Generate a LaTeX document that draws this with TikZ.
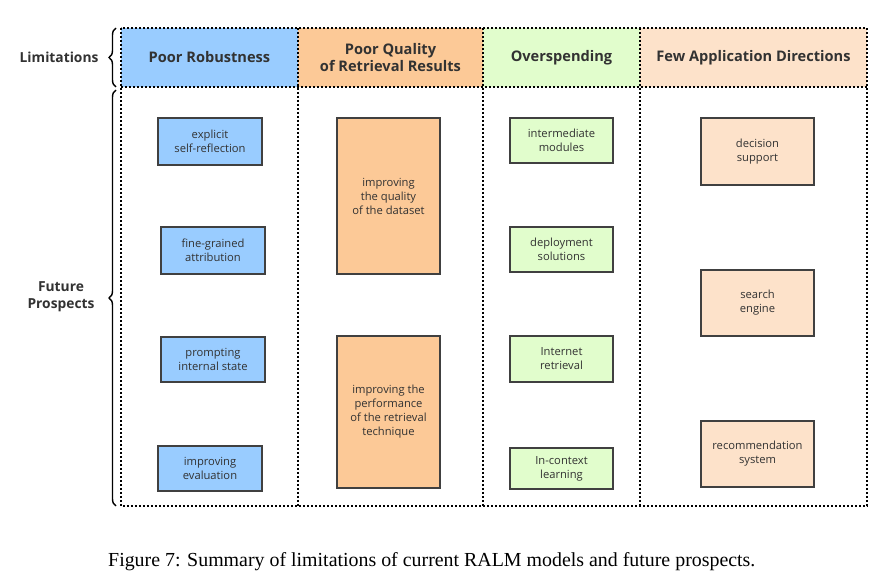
\documentclass[tikz,border=0pt]{standalone}
\usepackage{fontspec}
\setmainfont{Liberation Serif}
\newfontfamily\diagfont{Open Sans}
\usetikzlibrary{positioning,calc,decorations.pathreplacing}
\definecolor{textgrey}{RGB}{50,50,50}
\definecolor{boxgrey}{RGB}{64,64,64}
\definecolor{robustblue}{RGB}{153,204,255}
\definecolor{qualityorange}{RGB}{252,201,151}
\definecolor{spendgreen}{RGB}{225,253,204}
\definecolor{fewpeach}{RGB}{253,226,202}
\tikzset{
  headcell/.style={inner sep=0pt,outer sep=0pt,minimum height=59pt,text=textgrey,font=\diagfont\bfseries\fontsize{14.6}{17}\selectfont,align=center},
  bodycell/.style={inner sep=0pt,outer sep=0pt,minimum height=419pt},
  gridline/.style={draw=black,line width=1.3pt,dash pattern=on 1.7pt off 2.3pt},
  prospect/.style={draw=boxgrey,line width=1.2pt,inner sep=2pt,text=textgrey,font=\diagfont\fontsize{11.2}{14}\selectfont,align=center},
  sidelabel/.style={text=textgrey,font=\diagfont\bfseries\fontsize{13.8}{17}\selectfont,align=center},
  sidebrace/.style={draw=black,line width=1.4pt,decorate,decoration={brace,amplitude=7pt}}
}
\begin{document}
\begin{tikzpicture}[x=1pt,y=-1pt]
\useasboundingbox (0,0) rectangle (892,580);

% limitations row
\node [headcell,fill=robustblue,minimum width=177pt] (robust) at (209.5,57.5) {Poor Robustness};
\node [headcell,fill=qualityorange,minimum width=185pt] (quality) at (390.5,57.5) {Poor Quality\\of Retrieval Results};
\node [headcell,fill=spendgreen,minimum width=157pt] (spend) at (561.5,57.5) {Overspending};
\node [headcell,fill=fewpeach,minimum width=227pt] (fewdir) at (753.5,57.5) {Few Application Directions};

% future prospects columns
\node [bodycell,minimum width=177pt] (robustcol) at (209.5,296.5) {};
\node [bodycell,minimum width=185pt] (qualitycol) at (390.5,296.5) {};
\node [bodycell,minimum width=157pt] (spendcol) at (561.5,296.5) {};
\node [bodycell,minimum width=227pt] (fewdircol) at (753.5,296.5) {};

% dotted grid
\draw [gridline] (robust.north west) rectangle (fewdircol.south east);
\draw [gridline] (robust.south west) -- (fewdir.south east);
\draw [gridline] (robust.north east) -- (robustcol.south east);
\draw [gridline] (quality.north east) -- (qualitycol.south east);
\draw [gridline] (spend.north east) -- (spendcol.south east);

% poor robustness
\node [prospect,fill=robustblue,minimum width=104pt,minimum height=47pt] (selfrefl) at (210,141.5) {explicit\\self-reflection};
\node [prospect,fill=robustblue,minimum width=104pt,minimum height=47pt] (attrib) at (213,250.5) {fine-grained\\attribution};
\node [prospect,fill=robustblue,minimum width=104pt,minimum height=45pt] (internal) at (213,359.5) {prompting\\internal state};
\node [prospect,fill=robustblue,minimum width=104pt,minimum height=45pt] (evaluation) at (210,468.5) {improving\\evaluation};

% poor quality of retrieval results
\node [prospect,fill=qualityorange,minimum width=103pt,minimum height=156pt] (dataset) at (388.5,196) {improving\\the quality\\of the dataset};
\node [prospect,fill=qualityorange,minimum width=103pt,minimum height=152pt] (technique) at (388.5,412) {improving the\\performance\\of the retrieval\\technique};

% overspending
\node [prospect,fill=spendgreen,minimum width=103pt,minimum height=45pt] (modules) at (561.5,140.5) {intermediate\\modules};
\node [prospect,fill=spendgreen,minimum width=103pt,minimum height=45pt] (deploy) at (561.5,249.5) {deployment\\solutions};
\node [prospect,fill=spendgreen,minimum width=103pt,minimum height=46pt] (internet) at (561.5,359) {Internet\\retrieval};
\node [prospect,fill=spendgreen,minimum width=103pt,minimum height=41pt] (incontext) at (561.5,468.5) {In-context\\learning};

% few application directions
\node [prospect,fill=fewpeach,minimum width=113pt,minimum height=67pt] (decision) at (757.5,151.5) {decision\\support};
\node [prospect,fill=fewpeach,minimum width=113pt,minimum height=66pt] (search) at (757.5,303) {search\\engine};
\node [prospect,fill=fewpeach,minimum width=113pt,minimum height=66pt] (recommend) at (757.5,454) {recommendation\\system};

% braces and row labels
\coordinate (limbot) at ($(robust.south west)+(-5,0)$);
\coordinate (limtop) at ($(robust.north west)+(-5,0)$);
\coordinate (futbot) at ($(robustcol.south west)+(-5,0)$);
\coordinate (futtop) at ($(robustcol.north west)+(-5,3)$);
\draw [sidebrace] (limbot) -- (limtop);
\draw [sidebrace] (futbot) -- (futtop);
\node [sidelabel,anchor=east] (limits) at (102,57.5) {Limitations};
\node [sidelabel,anchor=east] (future) at (98,297) {Future\\Prospects};

% caption
\node [font=\fontsize{19.9}{22}\selectfont,anchor=base west,inner sep=0pt] (caption) at (108,566) {Figure 7: Summary of limitations of current RALM models and future prospects.};
\end{tikzpicture}
\end{document}
